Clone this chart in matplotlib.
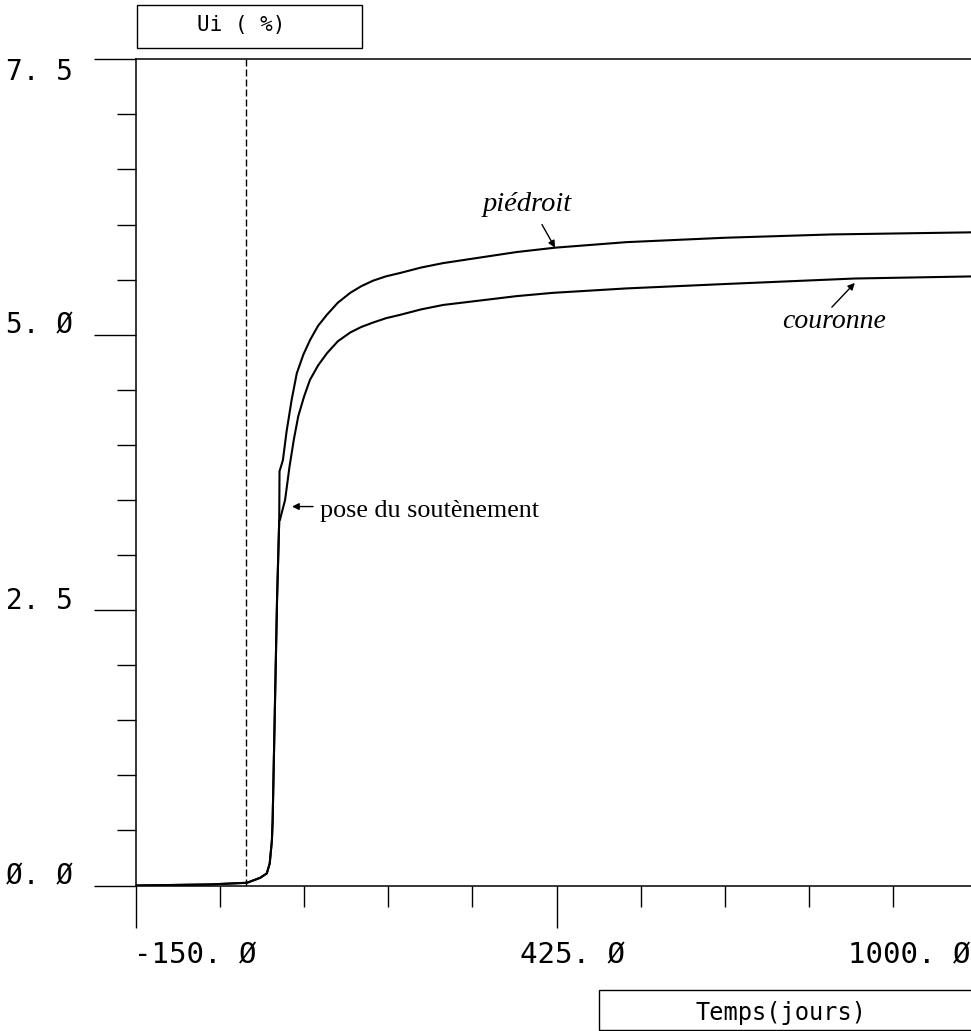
import numpy as np
import matplotlib
matplotlib.use('Agg')
import matplotlib.pyplot as plt
import matplotlib.transforms as mtransforms
from matplotlib.patches import Rectangle

# --- donnees ---
t_common = [-150, -48, 2, 20, 29, 33, 36, 37, 43, 46]
u_common = [0.0, 0.01, 0.025, 0.07, 0.11, 0.20, 0.41, 0.59, 2.59, 3.32]

t_pied = [46.4, 51, 56, 63, 70, 79, 88, 99, 111, 126, 143, 158, 174, 192, 211,
          240, 270, 320, 370, 423, 520, 655, 800, 900, 1000]
u_pied = [3.76, 3.86, 4.12, 4.41, 4.65, 4.82, 4.95, 5.08, 5.18, 5.29, 5.38, 5.44, 5.49, 5.53, 5.56,
          5.61, 5.65, 5.70, 5.75, 5.79, 5.84, 5.88, 5.91, 5.92, 5.93]

t_cour = [47, 54, 60, 66, 72, 80, 88, 99, 111, 126, 143, 158, 174, 192, 211,
          240, 270, 320, 370, 420, 520, 655, 832, 1000]
u_cour = [3.32, 3.50, 3.80, 4.05, 4.26, 4.44, 4.59, 4.72, 4.83, 4.94, 5.02, 5.07, 5.11, 5.15, 5.18,
          5.23, 5.27, 5.31, 5.35, 5.38, 5.42, 5.46, 5.51, 5.53]

t_pose = 0.0          # ligne pointillee
xmin, xmax = -150.0, 1000.0
ymin, ymax = 0.0, 7.5
xtick_major = [-150.0, 425.0, 1000.0]
xtick_labels = ["-150. Ø", "425. Ø", "1000. Ø"]
ytick_major = [0.0, 2.5, 5.0, 7.5]
ytick_labels = ["Ø. Ø", "2. 5", "5. Ø", "7. 5"]

mono = 'DejaVu Sans Mono'
serif = 'Liberation Serif'

fig = plt.figure(figsize=(9.71, 10.31), dpi=100)
ax = fig.add_axes([0.1398, 0.1411, 0.867, 0.8014])

ax.plot(t_common + t_pied, u_common + u_pied, color='black', lw=1.5)
ax.plot(t_common + t_cour, u_common + u_cour, color='black', lw=1.5)
ax.axvline(t_pose, ymin=0, ymax=1, color='black', lw=1.0, dashes=(5, 2.2))

ax.set_xlim(xmin, xmax)
ax.set_ylim(ymin, ymax)

ax.spines['right'].set_visible(False)
for s in ['left', 'bottom', 'top']:
    ax.spines[s].set_linewidth(1.1)

ax.set_xticks(xtick_major)
ax.set_xticks(np.linspace(xmin, xmax, 11), minor=True)
ax.set_yticks(ytick_major)
ax.set_yticks(np.arange(ymin, ymax + 0.01, 0.5), minor=True)
ax.tick_params(which='major', direction='out', length=30, width=1.0)
ax.tick_params(axis='x', which='minor', direction='out', length=15, width=1.0)
ax.tick_params(axis='y', which='minor', direction='out', length=14, width=1.0)
ax.set_xticklabels([])
ax.set_yticklabels([])

# etiquettes des graduations (style traceur)
for v, lab in zip(ytick_major, ytick_labels):
    dy = -13 if v == ymax else 9
    tr = ax.get_yaxis_transform() + mtransforms.ScaledTranslation(-63 / 100, dy / 100, fig.dpi_scale_trans)
    ax.text(0, v, lab, transform=tr, ha='right', va='center', fontsize=20,
            family=mono, clip_on=False)

x_ha = ['left', 'center', 'right']
x_dx = [-2, 16, -7]
for v, lab, ha, dx in zip(xtick_major, xtick_labels, x_ha, x_dx):
    tr = ax.get_xaxis_transform() + mtransforms.ScaledTranslation(dx / 100, -70 / 100, fig.dpi_scale_trans)
    ax.text(v, 0, lab, transform=tr, ha=ha, va='center', fontsize=21,
            family=mono, clip_on=False)

# annotations
arrow = dict(arrowstyle='-|>', color='black', lw=1.0, mutation_scale=10, shrinkA=0, shrinkB=0)
ax.annotate('', xy=(63.5, 3.44), xytext=(92.2, 3.44), arrowprops=arrow)
ax.text(101.6, 3.345, 'pose du soutènement', family=serif, fontsize=18.8,
        ha='left', va='baseline')

ax.annotate('', xy=(422.7, 5.79), xytext=(404.9, 6.0), arrowprops=arrow)
ax.text(384.4, 6.12, 'piédroit', family=serif, style='italic', fontsize=20.5,
        ha='center', va='baseline')

ax.annotate('', xy=(832.3, 5.47), xytext=(800.9, 5.25), arrowprops=arrow)
ax.text(803.7, 5.06, 'couronne', family=serif, style='italic', fontsize=20,
        ha='center', va='baseline')

# cartouches des titres d'axes
fig.add_artist(Rectangle((0.1411, 0.9534), 0.2317, 0.0418, transform=fig.transFigure,
                         fill=False, edgecolor='black', lw=1.0))
fig.text(0.2482, 0.9753, 'Ui ( %)', family=mono, fontsize=15, ha='center', va='center')

fig.add_artist(Rectangle((0.6169, 0.0005), 0.40, 0.0393, transform=fig.transFigure,
                         fill=False, edgecolor='black', lw=1.0))
fig.text(0.8048, 0.0175, 'Temps(jours)', family=mono, fontsize=17, ha='center', va='center')

fig.savefig('out.png', dpi=100)
